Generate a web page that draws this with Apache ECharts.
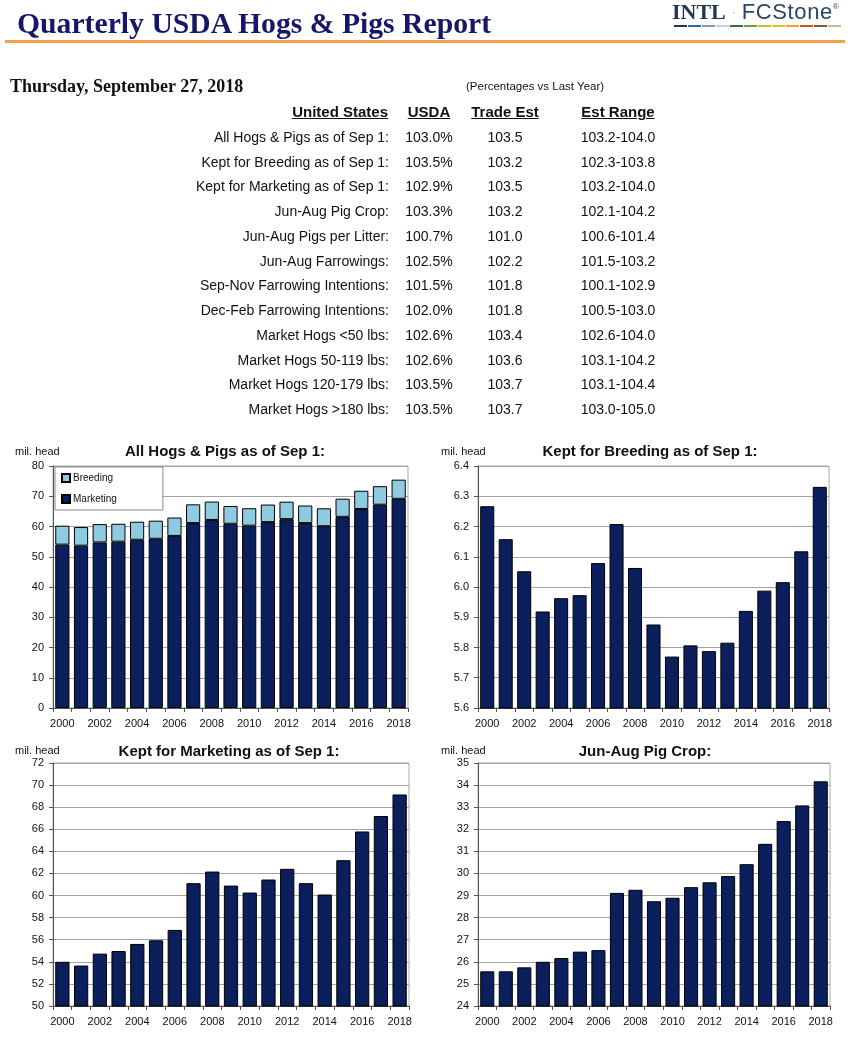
<!DOCTYPE html>
<html>
<head>
<meta charset="utf-8">
<script src="https://cdn.jsdelivr.net/npm/echarts@6/dist/echarts.min.js"></script>
<style>
  html, body { margin: 0; padding: 0; background: #fff; }
  #wrap { position: relative; width: 850px; height: 1037px; overflow: hidden; }
  #chart { position: absolute; left: 0; top: 0; width: 850px; height: 1037px; }
  .t { position: absolute; white-space: nowrap; font-family: "Liberation Sans", Arial, sans-serif; color: #111; }
</style>
</head>
<body>
<div id="wrap">
  <div id="chart"></div>
  <div id="overlay"></div>
</div>
<script>
// ---------- Data ----------
const years = ['2000','2001','2002','2003','2004','2005','2006','2007','2008','2009','2010','2011','2012','2013','2014','2015','2016','2017','2018'];
const marketing = [54.0, 53.66, 54.74, 54.98, 55.62, 55.95, 56.89, 61.12, 62.17, 60.9, 60.27, 61.45, 62.42, 61.12, 60.09, 63.2, 65.8, 67.2, 69.15];
const breeding = [6.267, 6.158, 6.052, 5.919, 5.963, 5.973, 6.079, 6.208, 6.063, 5.876, 5.770, 5.807, 5.788, 5.816, 5.921, 5.988, 6.016, 6.118, 6.331];
const pigCrop = [25.57, 25.57, 25.75, 26.0, 26.17, 26.46, 26.53, 29.12, 29.26, 28.74, 28.9, 29.38, 29.6, 29.88, 30.42, 31.34, 32.37, 33.08, 34.17];

const chartTitles = ['All Hogs & Pigs as of Sep 1:', 'Kept for Breeding as of Sep 1:', 'Kept for Marketing as of Sep 1:', 'Jun-Aug Pig Crop:'];
const unitLabel = 'mil. head';
const legendNames = ['Breeding', 'Marketing'];

const reportTitle = 'Quarterly USDA Hogs & Pigs Report';
const reportDate = 'Thursday, September 27, 2018';
const noteText = '(Percentages vs Last Year)';
const tableHeaders = ['United States', 'USDA', 'Trade Est', 'Est Range'];
const rowLabels = ['All Hogs & Pigs as of Sep 1:', 'Kept for Breeding as of Sep 1:', 'Kept for Marketing as of Sep 1:', 'Jun-Aug Pig Crop:', 'Jun-Aug Pigs per Litter:', 'Jun-Aug Farrowings:', 'Sep-Nov Farrowing Intentions:', 'Dec-Feb Farrowing Intentions:', 'Market Hogs <50 lbs:', 'Market Hogs 50-119 lbs:', 'Market Hogs 120-179 lbs:', 'Market Hogs >180 lbs:'];
const usdaVals = ['103.0%', '103.5%', '102.9%', '103.3%', '100.7%', '102.5%', '101.5%', '102.0%', '102.6%', '102.6%', '103.5%', '103.5%'];
const tradeEst = ['103.5', '103.2', '103.5', '103.2', '101.0', '102.2', '101.8', '101.8', '103.4', '103.6', '103.7', '103.7'];
const estRange = ['103.2-104.0', '102.3-103.8', '103.2-104.0', '102.1-104.2', '100.6-101.4', '101.5-103.2', '100.1-102.9', '100.5-103.0', '102.6-104.0', '103.1-104.2', '103.1-104.4', '103.0-105.0'];

// ---------- HTML header & table ----------
const ov = document.getElementById('overlay');
function addText(txt, css) {
  const d = document.createElement('div');
  d.className = 't';
  d.textContent = txt;
  Object.assign(d.style, css);
  ov.appendChild(d);
  return d;
}
function box(css) {
  const d = document.createElement('div');
  d.style.position = 'absolute';
  Object.assign(d.style, css);
  ov.appendChild(d);
  return d;
}
// title
addText(reportTitle, { left: '17px', top: '5px', height: '36px', lineHeight: '36px', fontFamily: '"Liberation Serif", "Times New Roman", serif', fontWeight: 'bold', fontSize: '29.7px', color: '#17176a' });
// orange rule
box({ left: '5px', top: '40px', width: '840px', height: '3px', background: '#f5a14c' });
// logo
const logo = box({ left: '672px', top: '-5px', height: '24px', whiteSpace: 'nowrap', lineHeight: '24px' });
logo.innerHTML = '<span style="font-family:\'Liberation Serif\',serif;font-weight:bold;font-size:22px;color:#1f3655">INTL</span>' +
  '<span style="font-family:\'Liberation Sans\',sans-serif;font-size:12px;color:#9aa;margin:0 6px;vertical-align:3px">&#183;</span>' +
  '<span style="font-family:\'Liberation Sans\',sans-serif;font-size:22px;letter-spacing:0.6px;color:#2b4564">FCStone</span>' +
  '<span style="font-family:\'Liberation Sans\',sans-serif;font-size:8px;color:#2b4564;vertical-align:10px">&#174;</span>';
const barColors = ['#1f3655', '#2c6aa8', '#7f9ab3', '#c9d0d6', '#2f6e3a', '#6aa33a', '#b8c23a', '#e6c21f', '#f0a030', '#c2571f', '#7a5a3a', '#c8bd90'];
barColors.forEach((c, i) => box({ left: (674 + i * 14) + 'px', top: '25px', width: '13px', height: '2px', background: c }));

// date and note
addText(reportDate, { left: '10px', top: '75px', height: '22px', lineHeight: '22px', fontFamily: '"Liberation Serif", "Times New Roman", serif', fontWeight: 'bold', fontSize: '18px', color: '#111' });
addText(noteText, { left: '466px', top: '78px', height: '16px', lineHeight: '16px', fontSize: '11.5px', color: '#111' });

// table
const colCenters = [null, 429, 505, 618];
const headerY = 112;
addText(tableHeaders[0], { right: (850 - 388) + 'px', top: (headerY - 10) + 'px', height: '20px', lineHeight: '20px', fontSize: '15px', fontWeight: 'bold', textDecoration: 'underline' });
for (let c = 1; c < 4; c++) {
  addText(tableHeaders[c], { left: (colCenters[c] - 60) + 'px', width: '120px', textAlign: 'center', top: (headerY - 10) + 'px', height: '20px', lineHeight: '20px', fontSize: '15px', fontWeight: 'bold', textDecoration: 'underline' });
}
const rowY0 = 137, rowStep = 24.73;
rowLabels.forEach((lab, i) => {
  const y = rowY0 + i * rowStep;
  const base = { top: (y - 9) + 'px', height: '18px', lineHeight: '18px', fontSize: '14px' };
  addText(lab, Object.assign({ right: (850 - 389) + 'px' }, base));
  [usdaVals[i], tradeEst[i], estRange[i]].forEach((v, k) => {
    addText(v, Object.assign({ left: (colCenters[k + 1] - 60) + 'px', width: '120px', textAlign: 'center' }, base));
  });
});

// ---------- ECharts ----------
const chart = echarts.init(document.getElementById('chart'), null, { renderer: 'canvas' });
const NAVY = '#0b1f5c', LIGHT = '#8ecbe0', AXIS = '#555', GRIDC = '#a3a3a3';
const grids = [
  { left: 53, top: 466, width: 355, height: 242 },
  { left: 478, top: 466, width: 351, height: 242 },
  { left: 53, top: 763, width: 356, height: 243 },
  { left: 478, top: 763, width: 352, height: 243 }
];
const yCfg = [
  { min: 0, max: 80, interval: 10, fmt: v => String(v) },
  { min: 5.6, max: 6.4, interval: 0.1, fmt: v => v.toFixed(1) },
  { min: 50, max: 72, interval: 2, fmt: v => String(v) },
  { min: 24, max: 35, interval: 1, fmt: v => String(v) }
];
const FONT = '"Liberation Sans", Arial, sans-serif';
const xAxes = grids.map((g, i) => ({
  type: 'category', gridIndex: i, data: years, boundaryGap: true,
  axisLine: { lineStyle: { color: AXIS, width: 1 } },
  axisTick: { show: true, interval: 0, alignWithLabel: false, length: 4, lineStyle: { color: AXIS } },
  axisLabel: { interval: 1, color: '#111', fontSize: 11, fontFamily: FONT, margin: 10 },
  splitLine: { show: false }
}));
const yAxes = yCfg.map((c, i) => ({
  type: 'value', gridIndex: i, min: c.min, max: c.max, interval: c.interval,
  axisLine: { show: true, lineStyle: { color: AXIS, width: 1 } },
  axisTick: { show: true, length: 4, lineStyle: { color: AXIS } },
  axisLabel: { color: '#111', fontSize: 11, fontFamily: FONT, margin: 9, formatter: c.fmt },
  splitLine: { show: true, lineStyle: { color: GRIDC, width: 1 } }
}));
const barStyle = (color) => ({ color: color, borderColor: '#000', borderWidth: 1 });
const series = [
  { name: 'Marketing', type: 'bar', xAxisIndex: 0, yAxisIndex: 0, stack: 'all', data: marketing, itemStyle: barStyle(NAVY), barCategoryGap: '24%' },
  { name: 'Breeding', type: 'bar', xAxisIndex: 0, yAxisIndex: 0, stack: 'all', data: breeding, itemStyle: barStyle(LIGHT), barCategoryGap: '24%' },
  { name: 'KeptBreeding', type: 'bar', xAxisIndex: 1, yAxisIndex: 1, data: breeding, itemStyle: barStyle(NAVY), barCategoryGap: '24%' },
  { name: 'KeptMarketing', type: 'bar', xAxisIndex: 2, yAxisIndex: 2, data: marketing, itemStyle: barStyle(NAVY), barCategoryGap: '24%' },
  { name: 'PigCrop', type: 'bar', xAxisIndex: 3, yAxisIndex: 3, data: pigCrop, itemStyle: barStyle(NAVY), barCategoryGap: '24%' }
];
const titlePos = [[225, 452], [650, 452], [229, 752], [645, 752]];
const unitPos = [[15, 452], [441, 452], [15, 751], [441, 751]];
const graphics = [];
chartTitles.forEach((t, i) => {
  graphics.push({ type: 'text', x: titlePos[i][0], y: titlePos[i][1], z: 10,
    style: { text: t, fill: '#111', font: 'bold 15px ' + FONT, textAlign: 'center', textVerticalAlign: 'middle' } });
  graphics.push({ type: 'text', x: unitPos[i][0], y: unitPos[i][1], z: 10,
    style: { text: unitLabel, fill: '#111', font: '11px ' + FONT, textAlign: 'left', textVerticalAlign: 'middle' } });
});

chart.setOption({
  animation: false,
  grid: grids.map(g => Object.assign({ show: true, borderColor: '#aaa', borderWidth: 1, backgroundColor: 'transparent' }, g)),
  xAxis: xAxes,
  yAxis: yAxes,
  legend: {
    data: legendNames, orient: 'vertical', left: 55, top: 467,
    backgroundColor: '#fff', borderColor: '#888', borderWidth: 1,
    padding: [6, 46, 6, 6], itemGap: 11, itemWidth: 8, itemHeight: 8,
    icon: 'rect', selectedMode: false,
    textStyle: { fontSize: 10, color: '#111', fontFamily: FONT, padding: [0, 0, 0, -2] }
  },
  series: series,
  graphic: graphics
});
</script>
</body>
</html>
